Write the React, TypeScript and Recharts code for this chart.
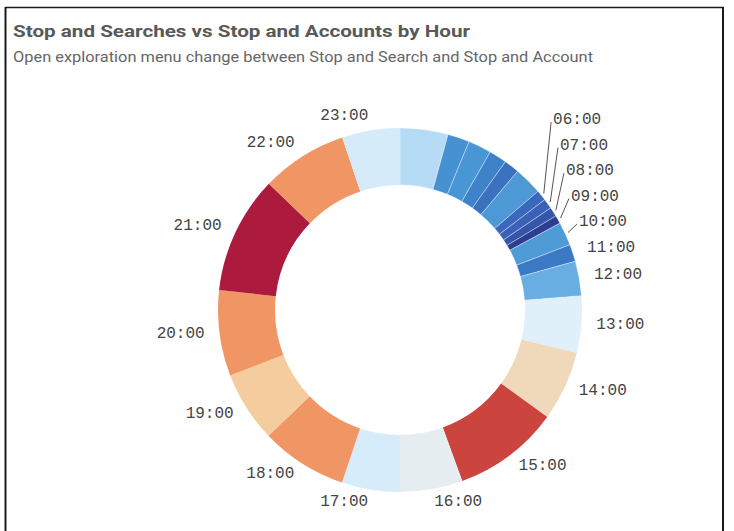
import React from "react";
import { PieChart, Pie, Cell } from "recharts";

const hours = [
  "00:00", "01:00", "02:00", "03:00", "04:00", "05:00", "06:00", "07:00",
  "08:00", "09:00", "10:00", "11:00", "12:00", "13:00", "14:00", "15:00",
  "16:00", "17:00", "18:00", "19:00", "20:00", "21:00", "22:00", "23:00",
];

const stopCounts = [
  153, 70, 74, 57, 49, 90, 34, 32, 30, 26, 75, 55,
  110, 182, 223, 340, 200, 186, 277, 226, 274, 376, 276, 185,
];

const sliceColors = [
  "#b6dcf5", "#4691d1", "#4996d4", "#3e82ca", "#3a72c0", "#4d99d6",
  "#3a68bc", "#3a61b5", "#3555aa", "#2d3d93", "#4f9bd7", "#3b79c5",
  "#68aee2", "#dff0fb", "#f0d8bb", "#cb453e", "#e5edf0", "#d7ecfa",
  "#f09664", "#f4cc9d", "#f09664", "#ac1b3d", "#f09664", "#d6ebf9",
];

// labels that the original chart does not show
const hiddenLabels = ["00:00", "01:00", "02:00", "03:00", "04:00", "05:00"];

const data = hours.map((h, i) => ({ name: h, value: stopCounts[i] }));

const W = 734;
const H = 531;
const CX = 400;
const CY = 310;
const OUTER = 182;
const INNER = 125;
const GAP = 25.5;

type LabelPos = { x: number; y: number; anchor: "start" | "end"; moved: boolean; theta: number };

function computeLabelLayout(): (LabelPos | null)[] {
  const total = stopCounts.reduce((a, b) => a + b, 0);
  let cum = 0;
  const res: (LabelPos | null)[] = stopCounts.map((v, i) => {
    const theta = (360 * (cum + v / 2)) / total;
    cum += v;
    if (hiddenLabels.includes(hours[i])) return null;
    const t = (theta * Math.PI) / 180;
    const s = Math.sin(t);
    const c = Math.cos(t);
    return {
      x: CX + (OUTER + 15) * s,
      y: CY - (OUTER + 14) * c,
      anchor: s >= 0 ? "start" : "end",
      moved: false,
      theta,
    };
  });
  (["start", "end"] as const).forEach((side) => {
    const group = res
      .filter((p): p is LabelPos => p !== null && p.anchor === side)
      .sort((a, b) => a.y - b.y);
    for (let k = group.length - 2; k >= 0; k--) {
      const limit = group[k + 1].y - GAP;
      if (group[k].y > limit) {
        if (group[k].y - limit > 3) group[k].moved = true;
        group[k].y = limit;
      }
    }
  });
  return res;
}

const labelLayout = computeLabelLayout();

const renderLabel = (props: any) => {
  const { index, cx, cy, midAngle, outerRadius } = props;
  const pos = labelLayout[index];
  if (!pos) return null;
  const rad = (-midAngle * Math.PI) / 180;
  const sx = cx + (outerRadius + 3) * Math.cos(rad);
  const sy = cy + (outerRadius + 3) * Math.sin(rad);
  return (
    <g key={`lbl-${index}`}>
      {pos.moved && (
        <line
          x1={sx}
          y1={sy}
          x2={pos.anchor === "start" ? pos.x - 2 : pos.x + 2}
          y2={pos.y + 1}
          stroke="#555555"
          strokeWidth={1}
        />
      )}
      <text
        x={pos.x}
        y={pos.y + 3}
        textAnchor={pos.anchor}
        fontFamily="Liberation Mono"
        fontSize={16}
        fill="#444444"
      >
        {hours[index]}
      </text>
    </g>
  );
};

export default function App() {
  return (
    <div style={{ position: "absolute", left: 0, top: 0, width: W, height: H, background: "#ffffff", overflow: "hidden" }}>
      <div style={{ position: "absolute", left: 0, top: 0 }}>
        <PieChart width={W} height={H} margin={{ top: 0, right: 0, bottom: 0, left: 0 }}>
          <Pie
            data={data}
            dataKey="value"
            nameKey="name"
            cx={CX}
            cy={CY}
            innerRadius={INNER}
            outerRadius={OUTER}
            startAngle={90}
            endAngle={-270}
            paddingAngle={0}
            isAnimationActive={false}
            label={renderLabel}
            labelLine={false}
          >
            {data.map((d, i) => (
              <Cell
                key={d.name}
                fill={sliceColors[i]}
                stroke={i <= 12 ? "#ffffff" : "none"}
                strokeOpacity={0.45}
                strokeWidth={0.8}
              />
            ))}
          </Pie>
        </PieChart>
      </div>
      <svg
        width={W}
        height={H}
        style={{ position: "absolute", left: 0, top: 0, pointerEvents: "none" }}
      >
        <line x1={5} y1={7.5} x2={724} y2={7.5} stroke="#1a1a1a" strokeWidth={1.6} />
        <line x1={5.5} y1={7} x2={5.5} y2={H} stroke="#1a1a1a" strokeWidth={2} />
        <line x1={723} y1={7} x2={723} y2={H} stroke="#1a1a1a" strokeWidth={2} />
        <text
          x={13}
          y={37}
          fontFamily="Roboto"
          fontWeight={700}
          fontSize={17}
          fill="#595959"
          textLength={457}
          lengthAdjust="spacingAndGlyphs"
        >
          Stop and Searches vs Stop and Accounts by Hour
        </text>
        <text
          x={13}
          y={62}
          fontFamily="Roboto"
          fontSize={14}
          fill="#666666"
          textLength={580}
          lengthAdjust="spacingAndGlyphs"
        >
          Open exploration menu change between Stop and Search and Stop and Account
        </text>
      </svg>
    </div>
  );
}
